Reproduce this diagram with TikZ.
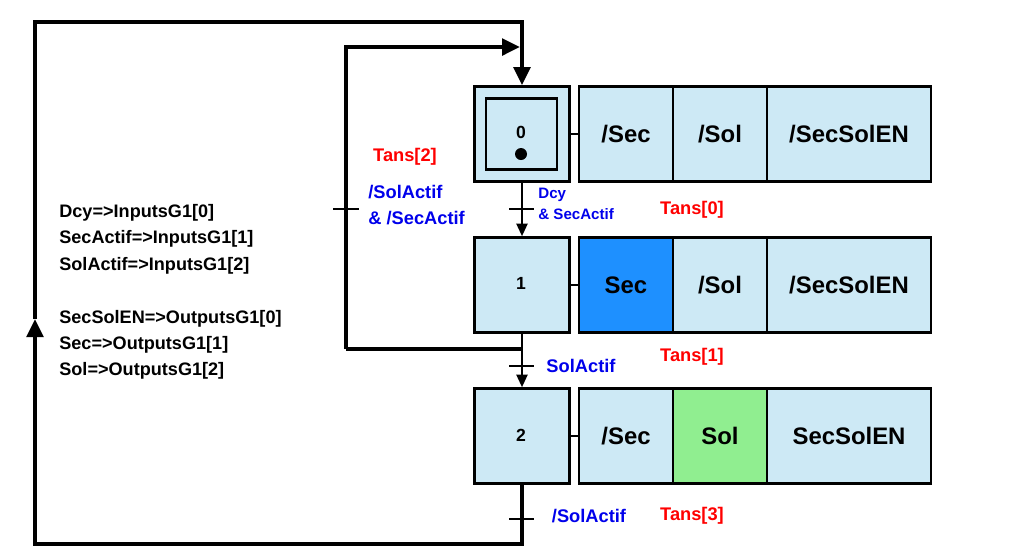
\documentclass[tikz,border=0pt]{standalone}
\usepackage{fontspec}
\setmainfont{Liberation Sans}
\usetikzlibrary{arrows.meta}
\definecolor{stepblue}{RGB}{205,233,245}
\definecolor{actblue}{RGB}{30,144,255}
\definecolor{actgreen}{RGB}{144,238,144}
\definecolor{condblue}{RGB}{0,0,235}
\definecolor{tansred}{RGB}{255,0,0}
\tikzset{
	stepbox/.style={draw,line width=1.5pt,fill=stepblue,minimum width=1.9cm,minimum height=1.9cm,inner sep=0pt,font=\fontsize{10}{12}\selectfont\bfseries},
	actbox/.style={draw,line width=1.4pt,fill=stepblue,minimum height=1.9cm,inner sep=0pt,font=\fontsize{13.6}{16}\selectfont\bfseries},
	flow/.style={line width=2.3pt,>={Triangle[length=0.36cm,width=0.33cm]}},
	link/.style={line width=1.2pt,>={Triangle[length=0.25cm,width=0.22cm]}},
	tick/.style={line width=1.1pt},
	cond/.style={text=condblue,inner sep=0pt,align=left,font=\fontsize{10.4}{14.7}\selectfont\bfseries},
	smallcond/.style={text=condblue,inner sep=0pt,align=left,font=\fontsize{8.6}{11.9}\selectfont\bfseries},
	trname/.style={text=tansred,inner sep=0pt,font=\fontsize{10.4}{12}\selectfont\bfseries}
}
\begin{document}
\begin{tikzpicture}[line cap=butt,line join=miter,x=0.02cm,y=-0.02cm]
		\useasboundingbox (0,0) rectangle (1025,559);
		% steps
		\node[stepbox] (s0) at (522,134) {};
		\node[stepbox] (s1) at (522,285) {};
		\node[stepbox] (s2) at (522,436) {};
		\node[inner sep=0pt,font=\fontsize{10}{12}\selectfont\bfseries] (n1) at (521,283) {1};
		\node[inner sep=0pt,font=\fontsize{10}{12}\selectfont\bfseries] (n2) at (521,435) {2};
		\node[draw,line width=1.4pt,minimum width=1.42cm,minimum height=1.42cm] (s0in) at (521.5,134) {};
		\node[inner sep=0pt,font=\fontsize{10}{12}\selectfont\bfseries] (n0) at (521,132) {0};
		\fill (521,154) circle (0.12cm);
		% actions
		\node[actbox,minimum width=1.88cm] (a0a) at (626,134) {/Sec};
		\node[actbox,minimum width=1.88cm] (a0b) at (720,134) {/Sol};
		\node[actbox,minimum width=3.28cm] (a0c) at (849,134) {/SecSolEN};
		\node[actbox,minimum width=1.88cm,fill=actblue] (a1a) at (626,285) {Sec};
		\node[actbox,minimum width=1.88cm] (a1b) at (720,285) {/Sol};
		\node[actbox,minimum width=3.28cm] (a1c) at (849,285) {/SecSolEN};
		\node[actbox,minimum width=1.88cm] (a2a) at (626,436) {/Sec};
		\node[actbox,minimum width=1.88cm,fill=actgreen] (a2b) at (720,436) {Sol};
		\node[actbox,minimum width=3.28cm] (a2c) at (849,436) {SecSolEN};
		\draw[link] (s0.east) -- (a0a.west);
		\draw[link] (s1.east) -- (a1a.west);
		\draw[link] (s2.east) -- (a2a.west);
		% sequence
		\draw[link,->] (s0.south) -- (s1.north);
		\draw[link,->] (s1.south) -- (s2.north);
		\coordinate (j1) at (522,349);
		\coordinate (ib) at (346,349);
		\coordinate (ij) at (520,47);
		\draw[flow] (j1) -- (ib);
		\draw[flow,->] (ib) |- (ij);
		\coordinate (bl) at (35,544);
		\coordinate (up) at (35,319);
		\coordinate (tl) at (35,22);
		\draw[flow,->] (s2.south) |- (bl) -- (up);
		\draw[flow,->] (up) -- (tl) -| (s0.north);
		% transitions
		\draw[tick] (509,209) -- (534,209);
		\draw[tick] (333,209) -- (359,209);
		\draw[tick] (509,366) -- (534,366);
		\draw[tick] (509,519) -- (534,519);
		\node[trname] (t2) at (405,157) {Tans[2]};
		\node[cond,anchor=west] (c2) at (368,205) {/SolActif\\\& /SecActif};
		\node[smallcond,anchor=west] (c0) at (538,204) {Dcy\\\& SecActif};
		\node[trname] (t0) at (692,210) {Tans[0]};
		\node[cond] (c1) at (581,366) {SolActif};
		\node[trname] (t1) at (692,357) {Tans[1]};
		\node[cond] (c3) at (589,516) {/SolActif};
		\node[trname] (t3) at (692,516) {Tans[3]};
		% variables
		\node[anchor=west,align=left,inner sep=0pt,font=\fontsize{10.3}{15}\selectfont\bfseries] (io) at (59,292) {Dcy=>InputsG1[0]\\SecActif=>InputsG1[1]\\SolActif=>InputsG1[2]\\[15pt]SecSolEN=>OutputsG1[0]\\Sec=>OutputsG1[1]\\Sol=>OutputsG1[2]};
	\end{tikzpicture}
\end{document}
